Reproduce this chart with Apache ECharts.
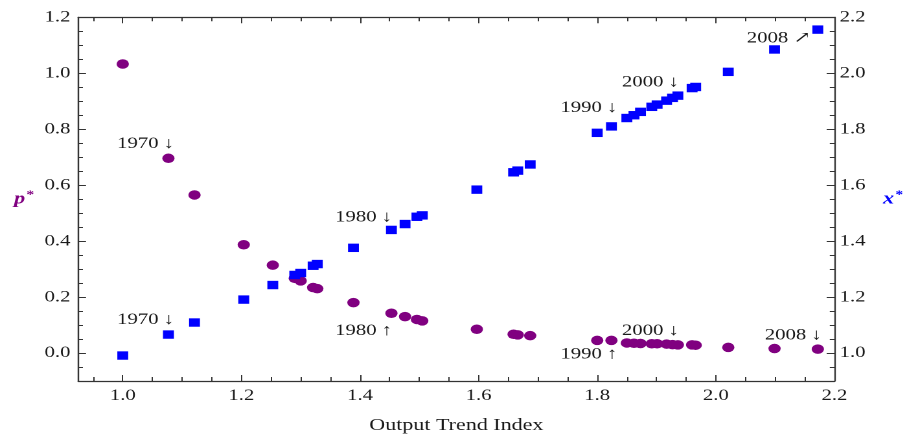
<!DOCTYPE html>
<html>
<head>
<meta charset="utf-8">
<script src="https://cdn.jsdelivr.net/npm/echarts@6/dist/echarts.min.js"></script>
<style>
  html, body { margin: 0; padding: 0; background: #fff; overflow: hidden; width: 907px; height: 439px; }
  #frame { position: absolute; left: 0; top: 0; width: 907px; height: 439px; overflow: hidden; }
  /* the chart is laid out at 700px and widened to the full 907px page */
  #chart { width: 700px; height: 439px; transform: scaleX(1.2957); transform-origin: 0 0; }
</style>
</head>
<body>
<div id="frame"><div id="chart"></div></div>
<script>
// Output trend index (shared horizontal coordinate of both series)
const outputTrend = [1.000, 1.077, 1.121, 1.204, 1.253, 1.290, 1.300, 1.321, 1.328, 1.389,
                     1.453, 1.476, 1.496, 1.505, 1.597, 1.659, 1.666, 1.687, 1.800, 1.824,
                     1.850, 1.862, 1.873, 1.892, 1.901, 1.917, 1.927, 1.936, 1.960, 1.966,
                     2.021, 2.099, 2.172];
// p* (left axis)
const pStar = [1.033, 0.696, 0.565, 0.387, 0.314, 0.267, 0.258, 0.234, 0.230, 0.180,
               0.142, 0.130, 0.120, 0.115, 0.085, 0.067, 0.065, 0.062, 0.045, 0.045,
               0.036, 0.035, 0.034, 0.033, 0.033, 0.032, 0.030, 0.029, 0.029, 0.028,
               0.020, 0.016, 0.014];
// x* (right axis)
const xStar = [0.991, 1.066, 1.109, 1.191, 1.243, 1.279, 1.286, 1.312, 1.318, 1.376,
               1.440, 1.461, 1.487, 1.492, 1.584, 1.646, 1.652, 1.674, 1.787, 1.810,
               1.840, 1.850, 1.862, 1.880, 1.888, 1.902, 1.912, 1.920, 1.947, 1.951,
               2.005, 2.085, 2.156];

// Year markers: which observation each year tag points at
const yearTags = ['1970', '1980', '1990', '2000', '2008'];
const yearIndex = [1, 10, 19, 26, 32];
const pArrows = ['↓', '↑', '↑', '↓', '↓'];
const xArrows = ['↓', '↓', '↓', '↓', '↗'];

// Axis ranges
const xRange = [0.925, 2.2];
const pRange = [-0.1, 1.2];
const xsRange = [0.9, 2.2];

// Label placement (text right edge / vertical centre relative to the marker)
const pTagOffsets = [[4.4, -14.7], [0.5, 17.4], [4.6, 13.7], [4.9, -14.0], [3.1, -13.6]];
const xTagOffsets = [[4.4, -15.0], [0.5, -12.4], [4.6, -18.4], [4.9, -15.4], [-5.4, 8.6]];

const SERIF = '"Liberation Serif", "DejaVu Serif", serif';
const PURPLE = '#800080';
const BLUE = '#0000ff';
const INK = '#1a1a1a';
const LINE = '#333333';

function buildPoints(values, arrows, offsets) {
  return outputTrend.map(function (x, i) {
    const k = yearIndex.indexOf(i);
    if (k < 0) return [x, values[i]];
    return {
      value: [x, values[i]],
      label: {
        show: true,
        formatter: yearTags[k] + ' ' + arrows[k],
        position: 'inside',
        align: 'right',
        verticalAlign: 'middle',
        offset: offsets[k],
        color: INK,
        fontFamily: SERIF,
        fontSize: 16
      }
    };
  });
}

function tickFmt(v) {
  const r = Math.round(v * 10) / 10;
  if (Math.abs(r * 5 - Math.round(r * 5)) > 1e-6 || Math.abs(v - r) > 1e-6) return '';
  return r.toFixed(1);
}

function baseAxis(extra) {
  return Object.assign({
    type: 'value',
    splitNumber: 6,
    axisLine: { show: true, onZero: false, lineStyle: { color: LINE, width: 1.2 } },
    splitLine: { show: false },
    axisLabel: { color: INK, fontFamily: SERIF, fontSize: 16, formatter: tickFmt, showMinLabel: true, showMaxLabel: true },
    axisTick: { show: true, inside: true, length: 6, lineStyle: { color: LINE, width: 1 } },
    minorTick: { show: true, splitNumber: 4, length: 3.6, lineStyle: { color: LINE, width: 1 } }
  }, extra);
}

const chart = echarts.init(document.getElementById('chart'), null, { renderer: 'canvas', devicePixelRatio: 2 });

chart.setOption({
  animation: false,
  backgroundColor: '#ffffff',
  grid: { left: 60.4, right: 51.2, top: 17.3, bottom: 56.7 },
  xAxis: [
    baseAxis({
      min: xRange[0], max: xRange[1], position: 'bottom',
      name: 'Output Trend Index', nameLocation: 'middle', nameGap: 36,
      nameTextStyle: { color: INK, fontFamily: SERIF, fontSize: 17 },
      axisLabel: { color: INK, fontFamily: SERIF, fontSize: 16, formatter: tickFmt, margin: 7 },
      axisTick: { show: true, inside: true, length: 6, lineStyle: { color: LINE, width: 1 } },
      minorTick: { show: true, splitNumber: 4, length: 4, lineStyle: { color: LINE, width: 1 } }
    }),
    baseAxis({
      min: xRange[0], max: xRange[1], position: 'top',
      axisLabel: { show: false },
      axisTick: { show: true, inside: true, length: 6, lineStyle: { color: LINE, width: 1 } },
      minorTick: { show: true, splitNumber: 4, length: 4, lineStyle: { color: LINE, width: 1 } }
    })
  ],
  yAxis: [
    baseAxis({
      min: pRange[0], max: pRange[1], position: 'left',
      name: '{v|p}{s|*}', nameLocation: 'middle', nameRotate: 0, nameGap: 34,
      nameTextStyle: {
        rich: {
          v: { fontFamily: SERIF, fontSize: 17, fontWeight: 'bold', fontStyle: 'italic', color: PURPLE },
          s: { fontFamily: SERIF, fontSize: 12, fontWeight: 'bold', color: PURPLE, verticalAlign: 'top', padding: [0, 0, 8, 1] }
        }
      },
      axisLabel: { color: INK, fontFamily: SERIF, fontSize: 16, formatter: tickFmt, margin: 6 }
    }),
    baseAxis({
      min: xsRange[0], max: xsRange[1], position: 'right',
      name: '{v|x}{s|*}', nameLocation: 'middle', nameRotate: 0, nameGap: 37.5,
      nameTextStyle: {
        rich: {
          v: { fontFamily: SERIF, fontSize: 17, fontWeight: 'bold', fontStyle: 'italic', color: BLUE },
          s: { fontFamily: SERIF, fontSize: 12, fontWeight: 'bold', color: BLUE, verticalAlign: 'top', padding: [0, 0, 8, 1] }
        }
      },
      axisLabel: { color: INK, fontFamily: SERIF, fontSize: 16, formatter: tickFmt, margin: 4 }
    })
  ],
  series: [
    {
      name: 'p*', type: 'scatter', xAxisIndex: 0, yAxisIndex: 0,
      symbol: 'circle', symbolSize: 9.5,
      itemStyle: { color: PURPLE, opacity: 1 },
      data: buildPoints(pStar, pArrows, pTagOffsets),
      z: 2
    },
    {
      name: 'x*', type: 'scatter', xAxisIndex: 0, yAxisIndex: 1,
      symbol: 'rect', symbolSize: 8.4,
      itemStyle: { color: BLUE, opacity: 1 },
      data: buildPoints(xStar, xArrows, xTagOffsets),
      z: 3
    }
  ]
});
</script>
</body>
</html>
